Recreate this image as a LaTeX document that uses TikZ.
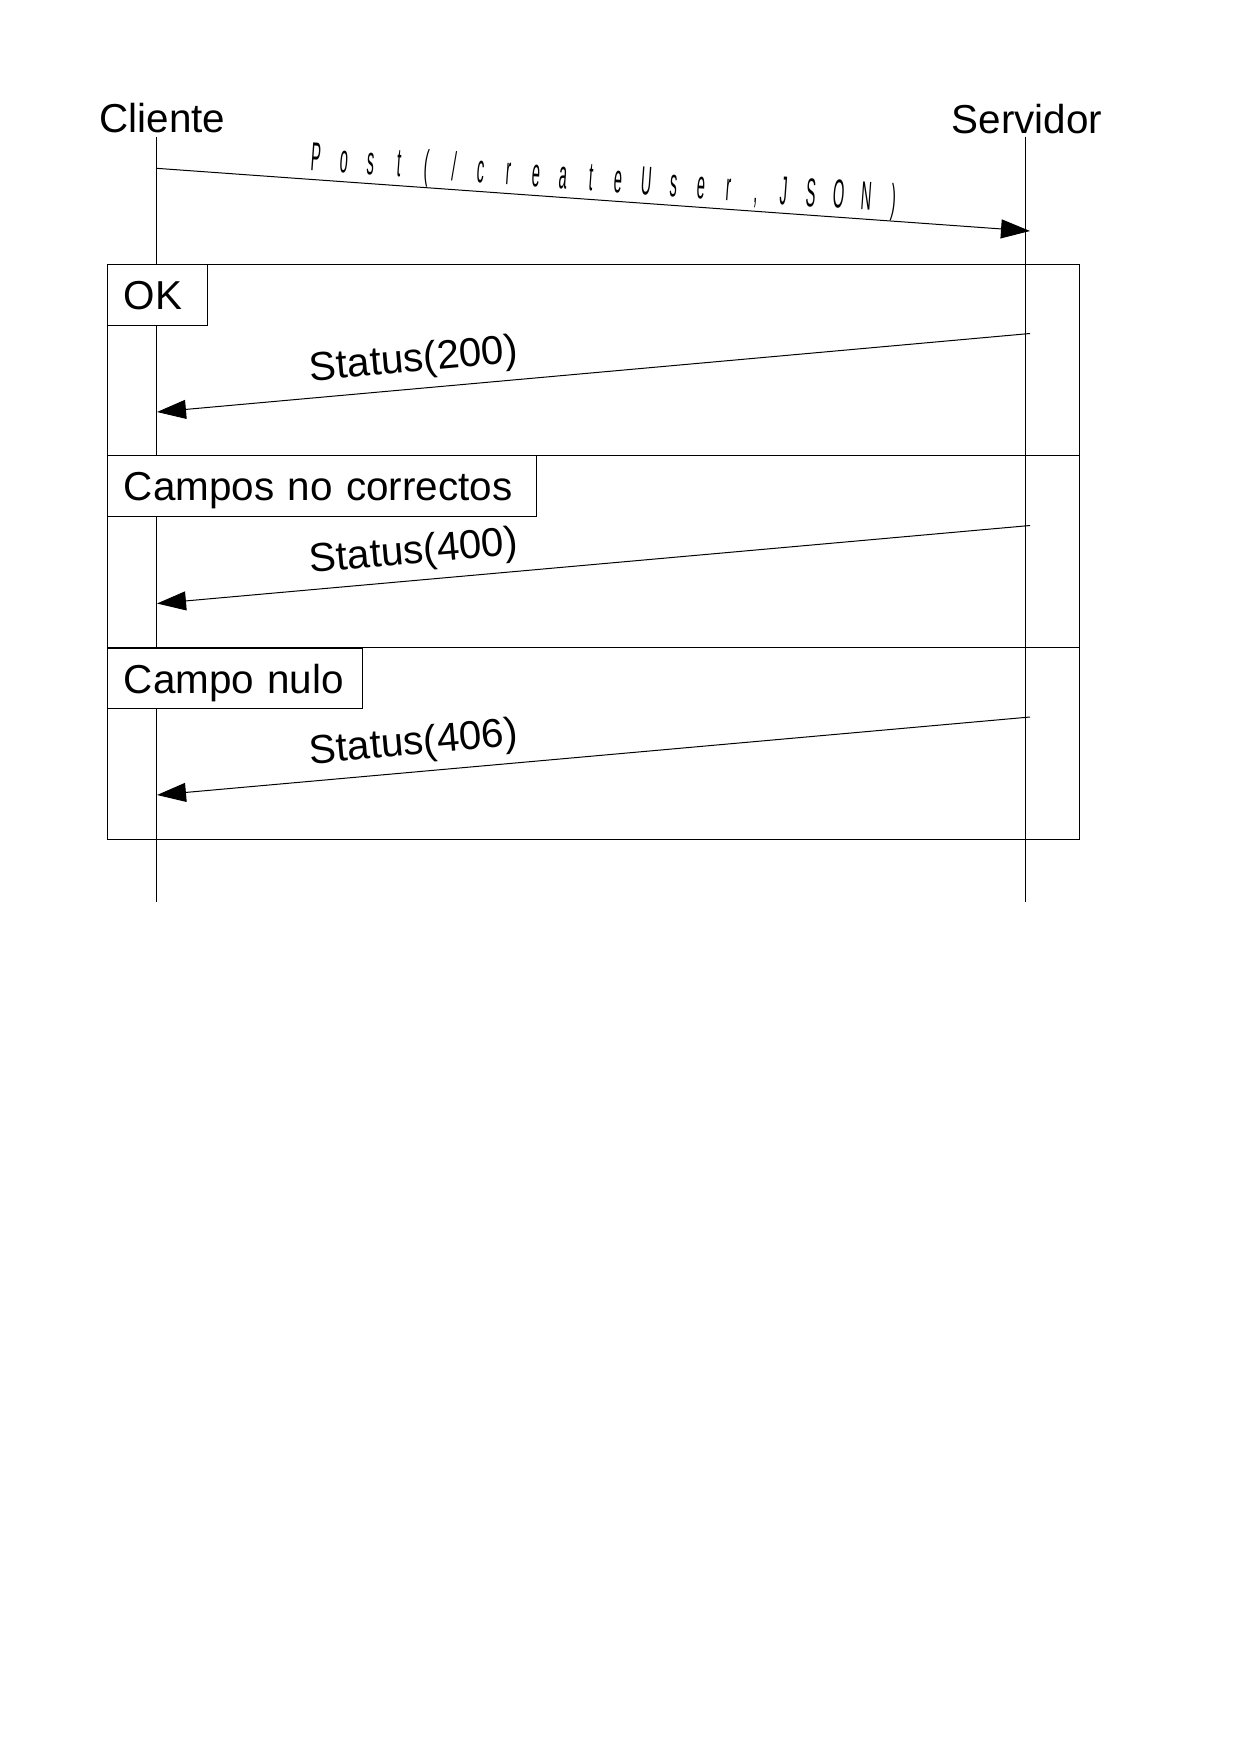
\documentclass[tikz,border=0pt]{standalone}
\usepackage{fontspec}
\setmainfont{Liberation Sans}
\usetikzlibrary{arrows.meta}
\newcommand\sqzchar[1]{\makebox[27.57pt]{\scalebox{0.36}[1]{#1}}}
\begin{document}
\begin{tikzpicture}[x=1pt,y=-1pt,
  line width=1.1pt,
  bigfont/.style={font=\fontsize{40.4}{48}\selectfont},
  head/.style={bigfont, inner sep=0pt, anchor=base},
  lifeline/.style={line width=1.1pt},
  frame/.style={line width=1.1pt},
  fraglabel/.style={bigfont, draw, fill=white, anchor=north west, inner xsep=16pt, inner ysep=0pt,
    text height=33pt, text depth=3.5pt, minimum height=60.5pt, align=left},
  msg/.style={-{Triangle[length=29pt,width=19pt]}, line width=1pt},
  msglabel/.style={bigfont, sloped, anchor=south, inner xsep=0pt}
]
\useasboundingbox (0,0) rectangle (1232,1742);

% headers
\node[head] (cli) at (162.5,132.3) {Cliente};
\node[head] (srv) at (1027,134) {Servidor};

% lifelines
\coordinate (cliTop) at (156.3,136.7);
\coordinate (cliBot) at (156.3,902.3);
\coordinate (srvTop) at (1025.7,136.7);
\coordinate (srvBot) at (1025.7,902.3);
\draw[lifeline] (cliTop) -- (cliBot);
\draw[lifeline] (srvTop) -- (srvBot);

% combined fragment frame
\coordinate (frNW) at (107.3,264.3);
\coordinate (frSE) at (1079.3,839.3);
\draw[frame] (frNW) rectangle (frSE);
\coordinate (d1w) at (107.3,455.3);
\coordinate (d1e) at (1079.3,455.3);
\coordinate (d2w) at (107.3,647.7);
\coordinate (d2e) at (1079.3,647.7);
\draw[frame] (d1w) -- (d1e);
\draw[frame] (d2w) -- (d2e);

% operand labels
\node[fraglabel, text width=67.4pt] (okl) at (frNW) {\mbox{OK}};
\node[fraglabel, text width=396.4pt] (cnc) at (d1w) {\mbox{Campos no correctos}};
\node[fraglabel, text width=222.9pt] (cnl) at (d2w) {\mbox{Campo nulo}};

% messages
\coordinate (p1s) at (156.3,168.3);
\coordinate (p1e) at (1030,231);
\draw[msg] (p1s) -- node[msglabel, pos=0.512, inner ysep=0pt] (lpost)
  {\sqzchar{P}\sqzchar{o}\sqzchar{s}\sqzchar{t}\sqzchar{(}\sqzchar{/}\sqzchar{c}\sqzchar{r}\sqzchar{e}\sqzchar{a}\sqzchar{t}\sqzchar{e}\sqzchar{U}\sqzchar{s}\sqzchar{e}\sqzchar{r}\sqzchar{,}\sqzchar{J}\sqzchar{S}\sqzchar{O}\sqzchar{N}\sqzchar{)}} (p1e);

\coordinate (s1s) at (1030,333.5);
\coordinate (s1e) at (157,412);
\draw[msg] (s1s) -- node[msglabel, pos=0.703, inner ysep=8pt] (l200) {Status(200)} (s1e);

\coordinate (s2s) at (1030,525.5);
\coordinate (s2e) at (157,603.5);
\draw[msg] (s2s) -- node[msglabel, pos=0.703, inner ysep=8pt] (l400) {Status(400)} (s2e);

\coordinate (s3s) at (1030,717);
\coordinate (s3e) at (157,795);
\draw[msg] (s3s) -- node[msglabel, pos=0.703, inner ysep=8pt] (l406) {Status(406)} (s3e);
\end{tikzpicture}
\end{document}
